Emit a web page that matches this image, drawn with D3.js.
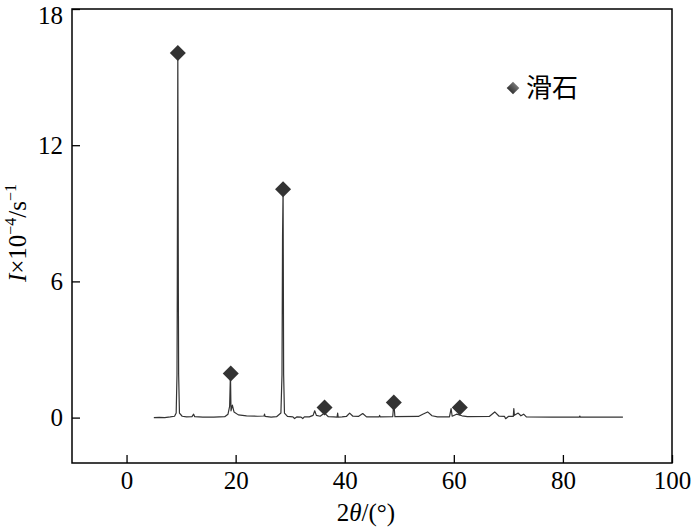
<!DOCTYPE html>
<html><head><meta charset="utf-8">
<script src="https://cdn.jsdelivr.net/npm/d3@7/dist/d3.min.js"></script>
<style>
html,body{margin:0;padding:0;background:#fff;}
svg{display:block;}
</style></head>
<body>
<svg id="chart" width="700" height="528"></svg>
<script>
// 2θ (degrees)
const twoTheta = [5.0,6.0,7.0,8.0,8.8,9.1,9.25,9.3,9.4,9.5,9.55,9.7,10.2,11.0,12.0,12.3,12.5,14.0,16.0,18.0,18.6,18.9,19.05,19.15,19.4,19.7,20.5,22.0,24.0,25.2,25.3,25.4,26.5,27.5,28.3,28.5,28.6,28.7,28.8,28.95,29.5,30.5,30.8,31.2,32.0,32.3,32.6,33.5,34.2,34.5,34.8,35.5,36.3,37.0,38.0,38.6,38.7,38.8,39.5,40.3,40.9,41.5,42.5,43.3,44.0,46.3,46.4,46.5,48.8,49.0,49.2,53.5,54.3,55.2,56.0,57.0,59.2,59.5,59.7,60.5,61.5,62.5,66.5,67.5,68.3,69.3,69.5,70.0,70.9,71.0,71.1,71.8,72.3,72.8,73.3,78.0,83.0,83.1,83.2,87.0,91.0];
// Intensity (×10^-4 s^-1)
const intensity = [0.00,0.01,0.00,0.03,0.06,0.2,1.9,5.5,16.06,5.5,1.9,0.2,0.06,0.03,0.04,0.15,0.04,0.02,0.02,0.04,0.15,0.5,1.94,0.3,0.55,0.25,0.12,0.08,0.06,0.07,0.15,0.05,0.02,0.04,0.2,1.9,8.0,10.06,1.9,0.2,0.05,0.03,-0.04,0.03,0.02,-0.04,0.03,0.03,0.1,0.3,0.1,0.06,0.2,0.04,0.03,0.02,0.2,0.02,0.03,0.05,0.2,0.06,0.05,0.18,0.03,0.03,0.1,0.03,0.04,0.66,0.04,0.05,0.15,0.25,0.08,0.03,0.03,0.4,0.06,0.15,0.08,0.04,0.05,0.25,0.06,0.05,-0.05,0.05,0.05,0.4,0.1,0.2,0.08,0.15,0.03,0.02,0.02,0.07,0.02,0.02,0.02];
// Talc peak markers
const markerX = [9.4,19.1,28.7,36.3,49.0,61.1];
const markerY = [16.06,1.94,10.06,0.44,0.66,0.44];
const xTicks = [0,20,40,60,80,100];
const yTicks = [0,6,12,18];
const legendLabel = "滑石";

const svg = d3.select("#chart");
const L=72, R=672, T=9, B=463;
const x = d3.scaleLinear().domain([-10,100]).range([L,R]);
const y = d3.scaleLinear().domain([-2,18]).range([B,T]);
const serif = "'Liberation Serif','Times New Roman',serif";
const FS = 25;

// defs gradient for legend marker
const defs = svg.append("defs");
const g1 = defs.append("linearGradient").attr("id","lg").attr("x1","0").attr("y1","0").attr("x2","0").attr("y2","1");
g1.append("stop").attr("offset","0%").attr("stop-color","#777");
g1.append("stop").attr("offset","100%").attr("stop-color","#333");

// pattern line
const line = d3.line().x((d,i)=>x(twoTheta[i])).y((d,i)=>y(intensity[i]));
svg.append("path").datum(intensity).attr("d",line)
  .attr("fill","none").attr("stroke","#333").attr("stroke-width",1.2).attr("stroke-linejoin","round");

// markers
const sym = d3.symbol().type(d3.symbolSquare).size(128);
svg.selectAll(".mk").data(markerX).enter().append("path")
  .attr("d",sym)
  .attr("transform",(d,i)=>`translate(${x(d)},${y(markerY[i])}) rotate(45)`)
  .attr("fill","#333");

// frame
svg.append("rect").attr("x",L).attr("y",T).attr("width",R-L).attr("height",B-T)
  .attr("fill","none").attr("stroke","#000").attr("stroke-width",1.5);

// axes (inward ticks)
const xAxis = d3.axisBottom(x).tickValues(xTicks).tickSize(-8).tickPadding(8).tickFormat(d3.format("d"));
const gx = svg.append("g").attr("transform",`translate(0,${B})`).call(xAxis);
gx.select(".domain").remove();
gx.selectAll("line").attr("stroke","#000").attr("stroke-width",1.3);
gx.selectAll("text").attr("font-family",serif).attr("font-size",FS).attr("fill","#000");

const yAxis = d3.axisLeft(y).tickValues(yTicks).tickSize(-8).tickPadding(9).tickFormat(d3.format("d"));
const gy = svg.append("g").attr("transform",`translate(${L},0)`).call(yAxis);
gy.select(".domain").remove();
gy.selectAll("line").attr("stroke","#000").attr("stroke-width",1.3);
gy.selectAll("text").attr("font-family",serif).attr("font-size",FS).attr("fill","#000")
  .attr("dy",d=>d===18 ? "0.56em" : "0.32em");

// x title
const xt = svg.append("text").attr("x",366).attr("y",521).attr("text-anchor","middle")
  .attr("font-family",serif).attr("font-size",FS).attr("fill","#000");
xt.append("tspan").text("2");
xt.append("tspan").attr("font-style","italic").text("θ");
xt.append("tspan").text("/(°)");

// y title
const yt = svg.append("text").attr("transform","translate(26,233) rotate(-90)").attr("text-anchor","middle")
  .attr("font-family",serif).attr("font-size",FS).attr("fill","#000");
yt.append("tspan").attr("font-style","italic").text("I");
yt.append("tspan").text("×10");
yt.append("tspan").attr("dy",-10).attr("font-size",16).text("−4");
yt.append("tspan").attr("dy",10).text("/s");
yt.append("tspan").attr("dy",-10).attr("font-size",16).text("−1");

// legend
svg.append("path").attr("d",d3.symbol().type(d3.symbolSquare).size(80))
  .attr("transform","translate(513,88) rotate(45)").attr("fill","url(#lg)");
svg.append("text").attr("x",526).attr("y",97).attr("font-family","'Noto Sans CJK SC',sans-serif")
  .attr("font-size",26).attr("fill","#000").text(legendLabel);
</script>
</body></html>
